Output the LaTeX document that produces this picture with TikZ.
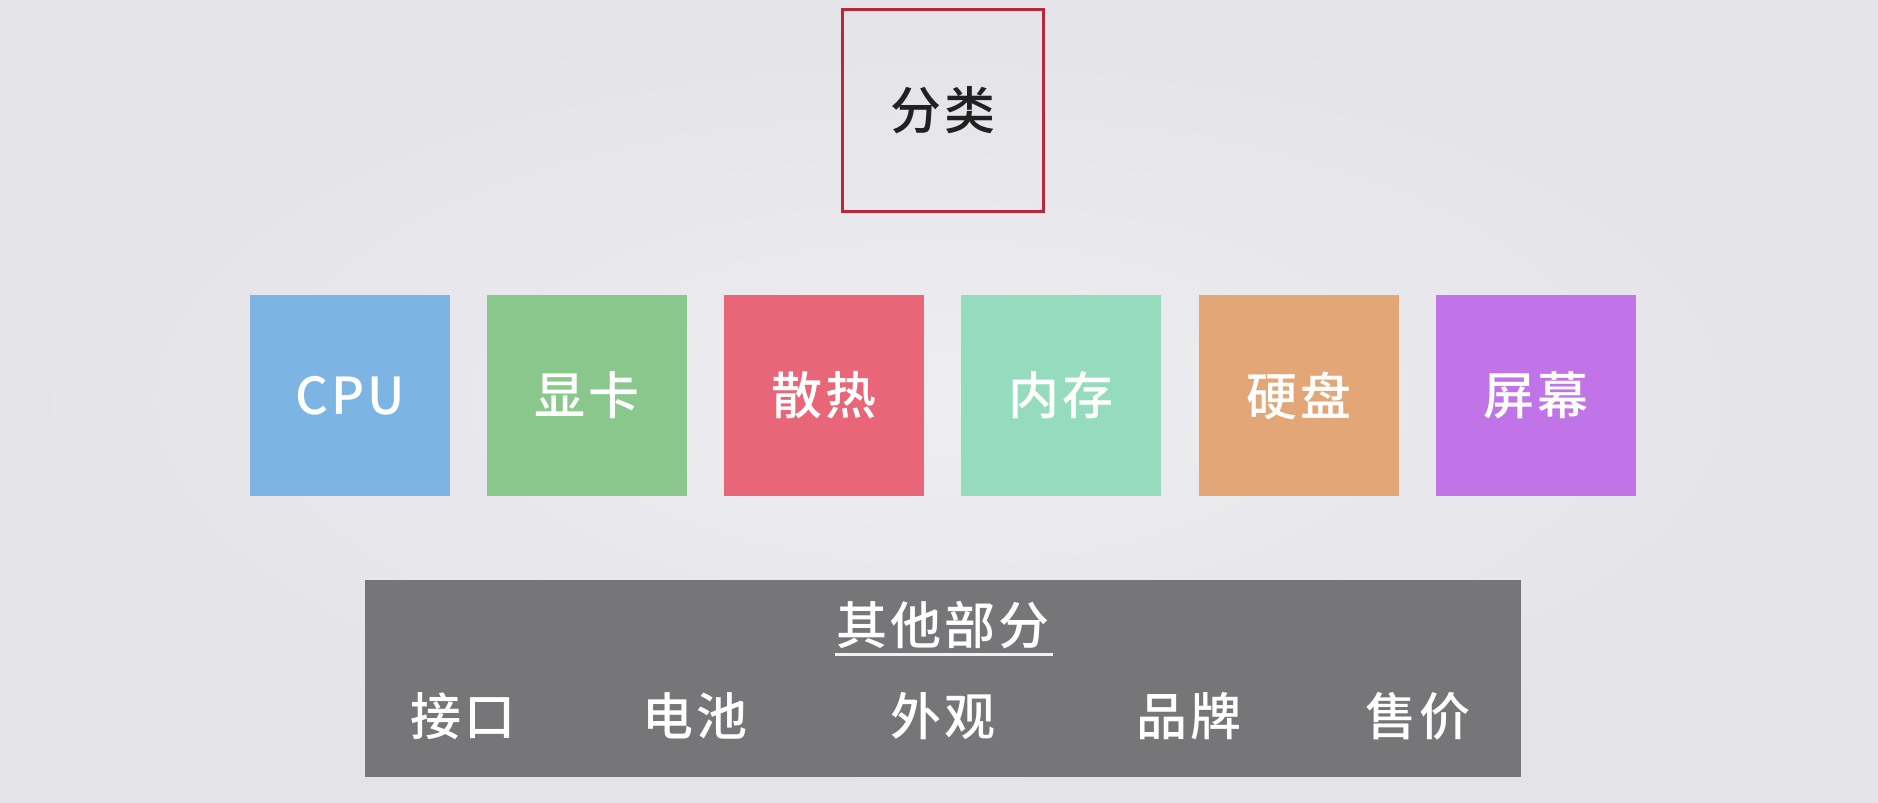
\documentclass[tikz,border=0pt]{standalone}
\usepackage{fontspec}
\newfontfamily\cjk{Noto Sans CJK SC}[BoldFont={Noto Sans CJK SC Medium}, LetterSpace=6]
\usetikzlibrary{positioning}
\definecolor{bgin}{HTML}{EEEEF1}
\definecolor{bgout}{HTML}{E3E3E8}
\definecolor{framered}{HTML}{B8273A}
\definecolor{cpublue}{HTML}{7CB5E3}
\definecolor{gpugreen}{HTML}{8AC78C}
\definecolor{fanred}{HTML}{E86677}
\definecolor{ramgreen}{HTML}{95DCBE}
\definecolor{diskorange}{HTML}{E3A677}
\definecolor{screenpurple}{HTML}{C174E8}
\definecolor{othergray}{HTML}{767577}
\tikzset{
	part/.style={minimum width=2cm, minimum height=2cm, inner sep=0pt, outer sep=0pt, text=white,
		font=\cjk\bfseries\fontsize{14.5}{17}\selectfont},
	item/.style={inner sep=0pt, text=white, font=\cjk\bfseries\fontsize{14.5}{17}\selectfont}
}

\begin{document}
\begin{tikzpicture}[x=0.01cm, y=-0.01cm]
		%%%%% START %%%%%
		
		\useasboundingbox (0, 0) rectangle (1878, 802);
		\shade[inner color=bgin, outer color=bgout] (0, 0) rectangle (1878, 802);
		
		\node[draw=framered, line width=0.03cm, minimum width=2.01cm, minimum height=2.01cm, inner sep=0pt,
			font=\cjk\bfseries\fontsize{14.5}{17}\selectfont, text=black!87] (kind) at (943, 110.5) {分类};
		
		\node[part, fill=cpublue] (cpu) at (350, 395.5) {CPU};
		\node[part, fill=gpugreen, right=0.37cm of cpu] (gpu) {显卡};
		\node[part, fill=fanred, right=0.37cm of gpu] (fan) {散热};
		\node[part, fill=ramgreen, right=0.37cm of fan] (ram) {内存};
		\node[part, fill=diskorange, right=0.37cm of ram] (disk) {硬盘};
		\node[part, fill=screenpurple, right=0.37cm of disk] (screen) {屏幕};
		
		\node[fill=othergray, minimum width=11.56cm, minimum height=1.97cm, inner sep=0pt] (others) at (943, 678.5) {};
		\node[item] (otitle) at (943, 625) {其他部分};
		\draw[line width=0.03cm, color=white!95!black] (835, 654) -- (1053, 654);
		
		\node[item] (port) at (463, 716) {接口};
		\node[item] (battery) at (695, 716) {电池};
		\node[item] (look) at (943, 716) {外观};
		\node[item] (brand) at (1189, 716) {品牌};
		\node[item] (price) at (1418, 716) {售价};
		
		%%%%% END %%%%%
	\end{tikzpicture}
\end{document}
